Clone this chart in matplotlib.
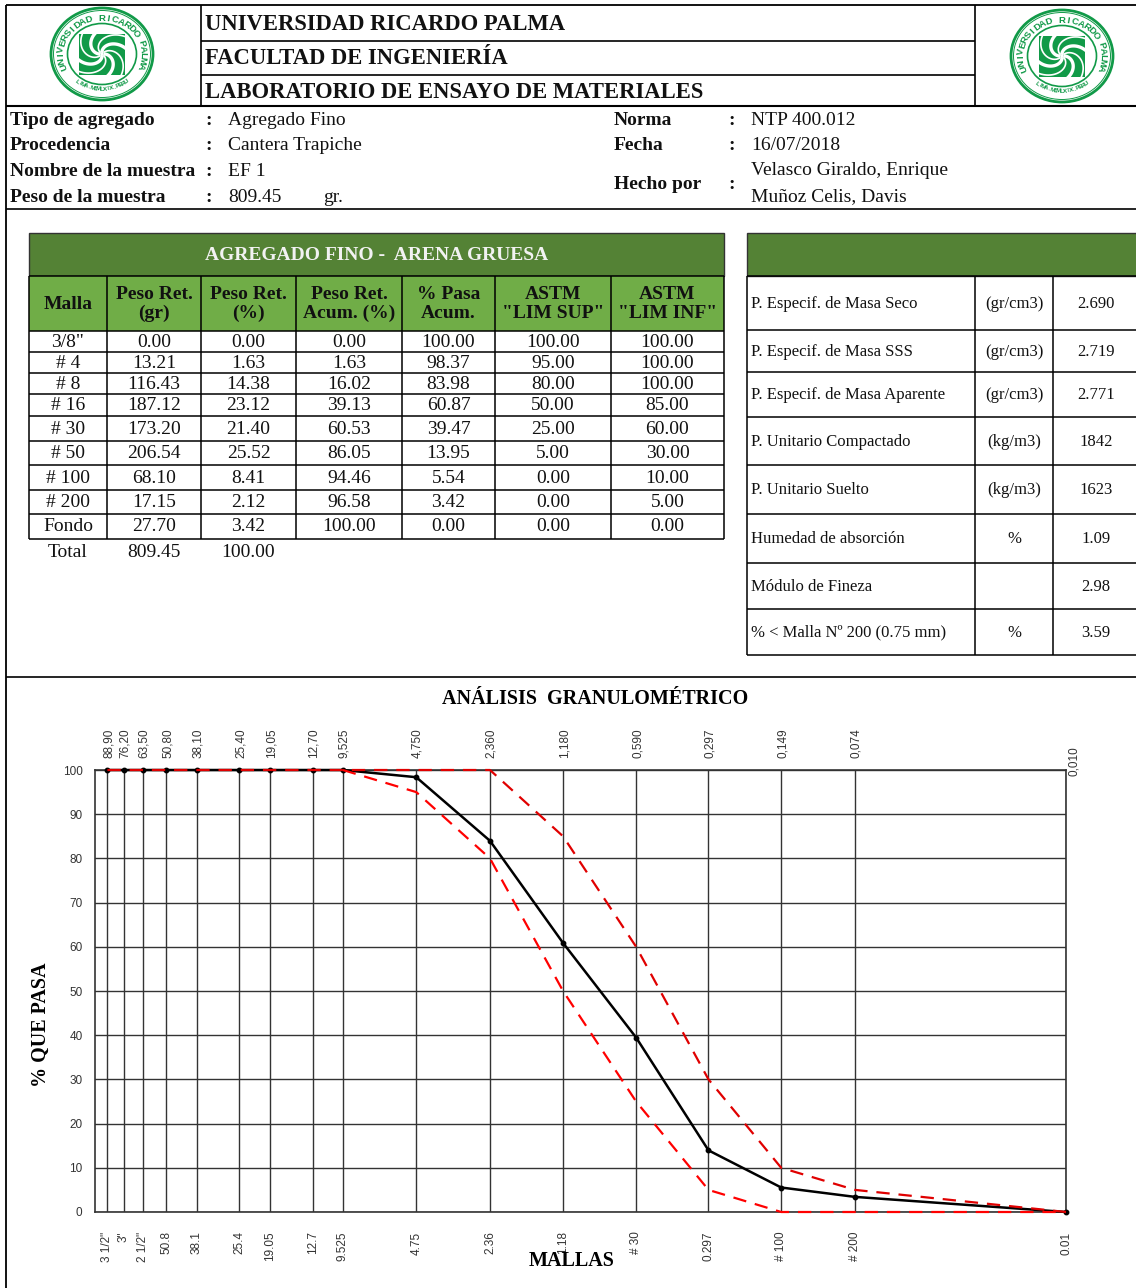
import numpy as np
import matplotlib
matplotlib.use('Agg')
import matplotlib.pyplot as plt
from matplotlib.patches import Rectangle, Ellipse

# tabla granulometrica
mallas = ['3/8"', '# 4', '# 8', '# 16', '# 30', '# 50', '# 100', '# 200', 'Fondo']
peso_ret = ['0.00', '13.21', '116.43', '187.12', '173.20', '206.54', '68.10', '17.15', '27.70']
peso_pct = ['0.00', '1.63', '14.38', '23.12', '21.40', '25.52', '8.41', '2.12', '3.42']
peso_acum = ['0.00', '1.63', '16.02', '39.13', '60.53', '86.05', '94.46', '96.58', '100.00']
pasa_acum = ['100.00', '98.37', '83.98', '60.87', '39.47', '13.95', '5.54', '3.42', '0.00']
lim_sup = ['100.00', '95.00', '80.00', '50.00', '25.00', '5.00', '0.00', '0.00', '0.00']
lim_inf = ['100.00', '100.00', '100.00', '85.00', '60.00', '30.00', '10.00', '5.00', '0.00']
encabezados = ['Malla', 'Peso Ret.\n(gr)', 'Peso Ret.\n(%)', 'Peso Ret.\nAcum. (%)', '% Pasa\nAcum.',
               'ASTM\n"LIM SUP"', 'ASTM\n"LIM INF"']

# propiedades
prop_nombres = ['P. Especif. de Masa Seco', 'P. Especif. de Masa SSS', 'P. Especif. de Masa Aparente',
                'P. Unitario Compactado', 'P. Unitario Suelto', 'Humedad de absorción',
                'Módulo de Fineza', '% < Malla Nº 200 (0.75 mm)']
prop_unidades = ['(gr/cm3)', '(gr/cm3)', '(gr/cm3)', '(kg/m3)', '(kg/m3)', '%', '', '%']
prop_valores = ['2.690', '2.719', '2.771', '1842', '1623', '1.09', '2.98', '3.59']

# curva
abertura = [88.90, 76.20, 63.50, 50.80, 38.10, 25.40, 19.05, 12.70, 9.525, 4.750, 2.360, 1.180, 0.590,
            0.297, 0.149, 0.074, 0.010]
pasa = [100, 100, 100, 100, 100, 100, 100, 100, 100, 98.37, 83.98, 60.87, 39.47, 13.95, 5.54, 3.42, 0]
curva_inf = [100, 100, 100, 100, 100, 100, 100, 100, 100, 95, 80, 50, 25, 5, 0, 0, 0]
curva_sup = [100, 100, 100, 100, 100, 100, 100, 100, 100, 100, 100, 85, 60, 30, 10, 5, 0]
etiq_abajo = ['3 1/2"', '3"', '2 1/2"', '50.8', '38.1', '25.4', '19.05', '12.7', '9.525', '4.75', '2.36',
              '1.18', '# 30', '0.297', '# 100', '# 200', '0.01']
etiq_arriba = ['88,90', '76,20', '63,50', '50,80', '38,10', '25,40', '19,05', '12,70', '9,525', '4,750',
               '2,360', '1,180', '0,590', '0,297', '0,149', '0,074', '0,010']

SERIF = 'Liberation Serif'
SANS = 'Liberation Sans'
VERDE_OSC = '#548235'
VERDE_CLA = '#70AD47'
VERDE_LOGO = '#119A48'

fig = plt.figure(figsize=(11.36, 12.88), dpi=100)
pg = fig.add_axes([0, 0, 1, 1])
pg.set_xlim(0, 1136)
pg.set_ylim(1288, 0)
pg.axis('off')


def linea(x0, y0, x1, y1, lw=1.0, color='black'):
    pg.plot([x0, x1], [y0, y1], color=color, lw=lw, solid_capstyle='butt')


def txt(x, y, s, size=14, bold=False, ha='left', color='#111111'):
    pg.text(x, y, s, family=SERIF, fontsize=size, fontweight='bold' if bold else 'normal',
            ha=ha, va='center', color=color, linespacing=1.15)


def logo(cx, cy):
    rx, ry = 51, 46
    pg.add_patch(Ellipse((cx, cy), 2 * rx, 2 * ry, fc='white', ec=VERDE_LOGO, lw=2))
    pg.add_patch(Ellipse((cx, cy), 2 * rx - 5, 2 * ry - 5, fc='none', ec=VERDE_LOGO, lw=0.7))
    pg.add_patch(Ellipse((cx, cy), 2 * rx - 33, 2 * ry - 31, fc='none', ec=VERDE_LOGO, lw=1.2))
    # letras sobre el anillo
    arriba = 'UNIVERSIDAD RICARDO PALMA'
    for i, c in enumerate(arriba):
        a = np.radians(200 - i * 220 / (len(arriba) - 1))
        pg.text(cx + (rx - 10) * np.cos(a), cy - (ry - 10) * np.sin(a), c, family=SANS, fontsize=6.8,
                fontweight='bold', color=VERDE_LOGO, ha='center', va='center',
                rotation=np.degrees(a) - 90)
    abajo = 'LIMA.MCMLXIX.PERU'
    for i, c in enumerate(abajo):
        a = np.radians(232 + i * 76 / (len(abajo) - 1))
        pg.text(cx + (rx - 11) * np.cos(a), cy - (ry - 11) * np.sin(a), c, family=SANS, fontsize=4.6,
                fontweight='bold', color=VERDE_LOGO, ha='center', va='center',
                rotation=np.degrees(a) + 90)
    # remolino
    cuad = Rectangle((cx - 23, cy - 20), 46, 41, fc=VERDE_LOGO, ec='none')
    pg.add_patch(cuad)
    t = np.linspace(0, 1, 40)
    for k in range(8):
        ang = k * np.pi / 4 + 2.2 * t
        r = 3 + 36 * t
        ln, = pg.plot(cx + r * np.cos(ang), cy + r * 0.9 * np.sin(ang), color='white',
                      lw=2.4 if k % 2 == 0 else 1.2)
        ln.set_clip_path(cuad)
    pg.add_patch(Ellipse((cx, cy), 3, 3, fc='white', ec='none'))


# marco y encabezado
linea(6, 5, 1136, 5, 1.3)
linea(6, 5, 6, 1288, 1.3)
linea(201, 5, 201, 105, 1.2)
linea(975, 5, 975, 105, 1.2)
linea(201, 40.5, 975, 40.5, 1.2)
linea(201, 75, 975, 75, 1.2)
linea(6, 105.5, 1136, 105.5, 1.5)
linea(6, 209, 1136, 209, 1.2)
linea(6, 677, 1136, 677, 1.2)
logo(102, 54)
logo(1062, 56)
txt(205, 24, 'UNIVERSIDAD RICARDO PALMA', 16.3, True)
txt(205, 58, 'FACULTAD DE INGENIERÍA', 16.3, True)
txt(205, 92, 'LABORATORIO DE ENSAYO DE MATERIALES', 16.3, True)

# datos de la muestra
for y, a, b in [(120, 'Tipo de agregado', 'Agregado Fino'), (145, 'Procedencia', 'Cantera Trapiche'),
                (171, 'Nombre de la muestra', 'EF 1'), (197, 'Peso de la muestra', '809.45')]:
    txt(10, y, a, 14, True)
    txt(205, y, ':', 14, True)
    txt(228, y, b, 14)
txt(323, 197, 'gr.', 14)
for y, a, b in [(120, 'Norma', 'NTP 400.012'), (145, 'Fecha', '16/07/2018')]:
    txt(614, y, a, 14, True)
    txt(728, y, ':', 14, True)
    txt(751, y, b, 14)
txt(614, 184, 'Hecho por', 14, True)
txt(728, 184, ':', 14, True)
txt(751, 170, 'Velasco Giraldo, Enrique', 14)
txt(751, 197, 'Muñoz Celis, Davis', 14)

# tabla izquierda
cols = [29, 107, 201, 296, 402, 495, 611, 724]
filas = [331, 352, 373, 394, 416, 441, 465, 490, 514, 538.5]
pg.add_patch(Rectangle((29, 233), 695, 43, fc=VERDE_OSC, ec='#333333', lw=1))
pg.add_patch(Rectangle((29, 276), 695, 55, fc=VERDE_CLA, ec='none'))
txt(377, 255, 'AGREGADO FINO -  ARENA GRUESA', 14, True, ha='center', color='#F2F2F2')
for y in [276] + filas:
    linea(29, y, 724, y, 1.1)
for x in cols:
    linea(x, 276, x, 538.5, 1.1)
for j, h in enumerate(encabezados):
    txt((cols[j] + cols[j + 1]) / 2, 304, h, 14, True, ha='center')
columnas = [mallas, peso_ret, peso_pct, peso_acum, pasa_acum, lim_sup, lim_inf]
for j, col in enumerate(columnas):
    for i, v in enumerate(col):
        txt((cols[j] + cols[j + 1]) / 2, (filas[i] + filas[i + 1]) / 2 + 0.5, v, 14, ha='center')
txt(68, 552, 'Total', 14, ha='center')
txt(154, 552, '809.45', 14, ha='center')
txt(248, 552, '100.00', 14, ha='center')

# tabla derecha
filas2 = [276, 330, 372, 417, 465, 514, 563, 609, 655]
pg.add_patch(Rectangle((747, 233), 400, 43, fc=VERDE_OSC, ec='#333333', lw=1, clip_on=True))
for y in filas2:
    linea(747, y, 1136, y, 1.1)
for x in [747, 975, 1052.5]:
    linea(x, 276, x, 655, 1.1)
for i in range(len(prop_nombres)):
    y = (filas2[i] + filas2[i + 1]) / 2 + 0.5
    txt(751, y, prop_nombres[i], 12)
    txt(1014, y, prop_unidades[i], 12, ha='center')
    txt(1096, y, prop_valores[i], 12, ha='center')

# grafico
L, R, T, B = 95, 1066, 770, 1212
ax = fig.add_axes([L / 1136, 1 - B / 1288, (R - L) / 1136, (B - T) / 1288])
ax.set_xscale('log')
ax.set_xlim(100, 0.01)
ax.set_ylim(0, 100)
ax.set_yticks(range(0, 101, 10))
ax.minorticks_off()
ax.set_xticks(abertura)
ax.set_xticklabels(etiq_abajo, rotation=90, fontsize=8.5, family=SANS, color='#333333')
ax.tick_params(axis='x', which='both', length=0, pad=14)
ax.tick_params(axis='x', which='minor', bottom=False, labelbottom=False)
ax.tick_params(axis='y', length=0, pad=9, labelsize=8.5, labelcolor='#333333')
for lab in ax.get_yticklabels():
    lab.set_family(SANS)
ax.grid(True, color='#333333', lw=1)
ax.set_axisbelow(True)
for s in ax.spines.values():
    s.set_color('#333333')
    s.set_linewidth(1.2)

ax.plot(abertura, pasa, color='black', lw=1.8, marker='o', ms=3.2, clip_on=False, zorder=3)
ax.plot(abertura[8:], curva_inf[8:], color='#FF0000', lw=1.6, dashes=(6, 4), clip_on=False, zorder=4)
ax.plot(abertura, curva_sup, color='#E00000', lw=1.6, dashes=(6, 4), clip_on=False, zorder=4)

for x, s in zip(abertura, etiq_arriba):
    dx, dy = (6, -4) if s == '0,010' else (1, 9)
    ax.annotate(s, (x, 1), xycoords=ax.get_xaxis_transform(), xytext=(dx, dy), textcoords='offset points',
                rotation=90, ha='center', va='bottom', fontsize=8.5, family=SANS, color='#333333')

ax.set_title('ANÁLISIS  GRANULOMÉTRICO', family=SERIF, fontweight='bold', fontsize=14.5,
             x=(595 - L) / (R - L), y=(B - 707) / (B - T), va='center')
ax.set_xlabel('MALLAS', family=SERIF, fontweight='bold', fontsize=14.5)
ax.xaxis.set_label_coords((572 - L) / (R - L), (B - 1261) / (B - T))
ax.xaxis.label.set_va('center')
ax.set_ylabel('% QUE PASA', family=SERIF, fontweight='bold', fontsize=14.5)
ax.yaxis.set_label_coords((41 - L) / (R - L), (B - 1025) / (B - T))
ax.yaxis.label.set_va('center')

fig.savefig('out.png', dpi=100)
